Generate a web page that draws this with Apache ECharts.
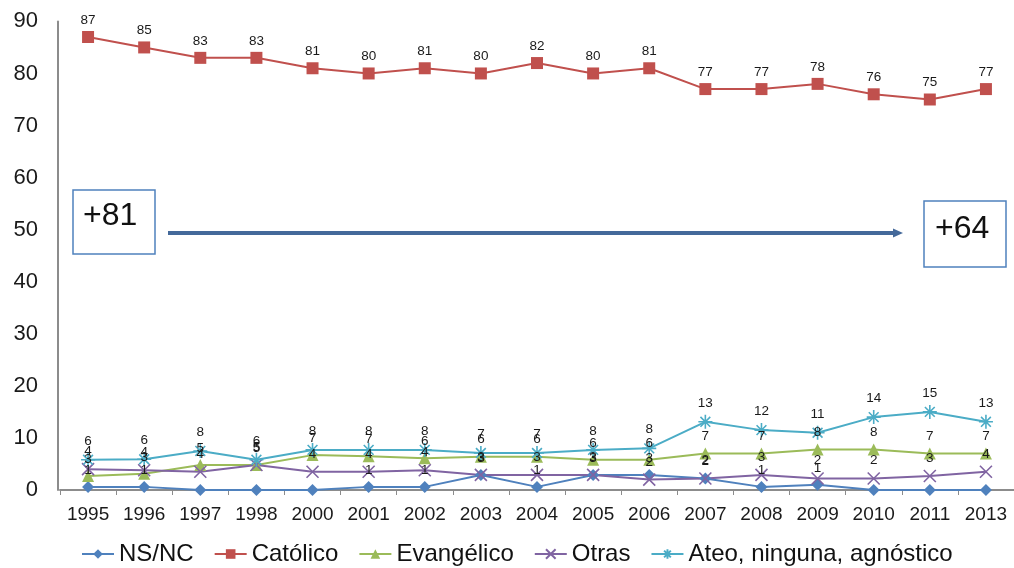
<!DOCTYPE html>
<html>
<head>
<meta charset="utf-8">
<script src="https://cdn.jsdelivr.net/npm/echarts@6/dist/echarts.min.js"></script>
<style>
html,body{margin:0;padding:0;background:#fff;}
#c{width:1014px;height:568px;}
</style>
</head>
<body>
<div id="c"></div>
<script>
const years = ['1995','1996','1997','1998','2000','2001','2002','2003','2004','2005','2006','2007','2008','2009','2010','2011','2013'];
const nsnc = [0.6,0.6,0,0,0,0.6,0.6,2.9,0.6,2.9,2.9,2.2,0.6,1,0,0,0];
const catolico = [87,85,83,83,81,80,81,80,82,80,81,77,77,78,76,75,77];
const evangelico = [2.7,3.1,4.8,4.8,6.7,6.5,6.1,6.4,6.4,5.8,5.8,7.0,7.0,7.8,7.8,7.0,7.0];
const otras = [4.0,3.8,3.5,4.8,3.5,3.5,3.8,2.9,2.9,2.9,2.0,2.2,2.9,2.2,2.2,2.7,3.5];
const ateo = [5.8,5.9,7.5,5.8,7.7,7.7,7.7,7.1,7.1,7.7,8.0,13.1,11.5,11.0,14.0,15.0,13.1];
const seriesNames = ['NS/NC','Católico','Evangélico','Otras','Ateo, ninguna, agnóstico'];
const yTicks = {min:0, max:90, interval:10};

const FONT = '"Liberation Sans", Arial, sans-serif';
const xPath = 'path://M0,0L10,10M10,0L0,10';
const starPath = 'path://M0,5L10,5M5,0L5,10M1.5,1.5L8.5,8.5M8.5,1.5L1.5,8.5';

function mk(name, data, color, symbol, size, stroke) {
  const s = {
    name: name, type: 'line', data: data,
    symbol: symbol, symbolSize: size,
    lineStyle: {color: color, width: 2},
    itemStyle: {color: color},
    label: {show: true, position: 'top', distance: 4, fontSize: 13.5, fontFamily: FONT,
            color: '#1a1a1a', formatter: p => { const r = Math.round(p.value); return r === 0 ? '' : String(r); }},
    emphasis: {disabled: true},
    animation: false
  };
  if (stroke) { s.itemStyle = {color: color, borderColor: color, borderWidth: 1.6}; }
  return s;
}

const chart = echarts.init(document.getElementById('c'));
chart.setOption({
  backgroundColor: '#fff',
  animation: false,
  grid: {left: 60, right: -5, top: 21.4, bottom: 78, containLabel: false},
  xAxis: {
    type: 'category', data: years, boundaryGap: true,
    axisLine: {lineStyle: {color: '#8c8c8c', width: 2}},
    axisTick: {show: true, length: 5, lineStyle: {color: '#8c8c8c'}},
    axisLabel: {interval: 0, margin: 15, fontSize: 19, fontFamily: FONT, color: '#1a1a1a'}
  },
  yAxis: {
    type: 'value', min: yTicks.min, max: yTicks.max, interval: yTicks.interval, offset: 2,
    axisLine: {show: true, lineStyle: {color: '#8c8c8c', width: 2}},
    axisTick: {show: false},
    splitLine: {show: false},
    axisLabel: {margin: 20, fontSize: 22, fontFamily: FONT, color: '#1a1a1a'}
  },
  legend: {
    data: seriesNames, left: 76, top: 537, itemWidth: 32, itemHeight: 12, itemGap: 20,
    textStyle: {fontSize: 24, fontFamily: FONT, color: '#111'}
  },
  series: [
    mk(seriesNames[0], nsnc, '#4F81BD', 'diamond', 12, false),
    mk(seriesNames[1], catolico, '#C0504D', 'rect', 12, false),
    mk(seriesNames[2], evangelico, '#9BBB59', 'triangle', 12, false),
    mk(seriesNames[3], otras, '#8064A2', xPath, 12, true),
    mk(seriesNames[4], ateo, '#4BACC6', starPath, 14, true)
  ],
  graphic: [
    {type: 'rect', shape: {x: 73, y: 190, width: 82, height: 64},
     style: {fill: 'none', stroke: '#4F81BD', lineWidth: 1.5}},
    {type: 'text', x: 83, y: 216, style: {text: '+81', font: '32px ' + FONT, fill: '#111', verticalAlign: 'middle'}},
    {type: 'rect', shape: {x: 924, y: 201, width: 82, height: 66},
     style: {fill: 'none', stroke: '#4F81BD', lineWidth: 1.5}},
    {type: 'text', x: 935, y: 229, style: {text: '+64', font: '32px ' + FONT, fill: '#111', verticalAlign: 'middle'}},
    {type: 'line', shape: {x1: 168, y1: 233, x2: 896, y2: 233},
     style: {stroke: '#44699A', lineWidth: 4}},
    {type: 'polygon', shape: {points: [[893, 228.5], [903, 233], [893, 237.5]]},
     style: {fill: '#44699A'}}
  ]
});
</script>
</body>
</html>
